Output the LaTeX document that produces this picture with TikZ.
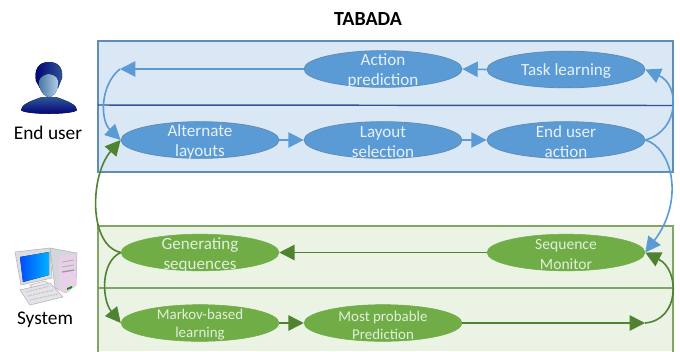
\documentclass[tikz,border=0pt]{standalone}
\usepackage{fontspec}
\setmainfont{Carlito}
\usetikzlibrary{arrows.meta,shapes.geometric,calc}
\definecolor{bluefill}{HTML}{DAE8F5}
\definecolor{blueedge}{HTML}{5F8DB5}
\definecolor{bluedark}{HTML}{2F5597}
\definecolor{blueell}{HTML}{5B9BD5}
\definecolor{greenfill}{HTML}{EBF3E5}
\definecolor{greenedge}{HTML}{7FA664}
\definecolor{greenell}{HTML}{70AD47}
\definecolor{greendark}{HTML}{4F8231}
\tikzset{
  blueoval/.style={ellipse,draw=blueedge,fill=blueell,line width=0.6pt,minimum width=118.5pt,minimum height=27.5pt,inner sep=0pt},
  greenoval/.style={ellipse,draw=greenell,fill=greenell,line width=0.4pt,minimum width=118.5pt,minimum height=27.5pt,inner sep=0pt},
  bluetext/.style={text=white!85!blueell,align=center,inner sep=0pt,yshift=-1.5pt,font=\fontsize{12.8}{15}\selectfont},
  greentext/.style={text=white!80!greenell,align=center,inner sep=0pt,yshift=-1.5pt,font=\fontsize{12.8}{15}\selectfont},
  seqtext/.style={greentext,font=\fontsize{11.7}{14.3}\selectfont},
  smalltext/.style={greentext,font=\fontsize{11.2}{13.5}\selectfont},
  blueflow/.style={draw=blueell,line width=1.2pt,-{Triangle[length=11.5pt,width=11.5pt,fill=blueell]}},
  greenflow/.style={draw=greendark,line width=1.2pt,-{Triangle[length=11.5pt,width=11.5pt,fill=greendark]}},
  actor/.style={font=\fontsize{14.5}{17}\selectfont,text=black},
}
\begin{document}
\begin{tikzpicture}[x=0.75pt,y=-0.75pt]
\useasboundingbox (0,0) rectangle (680,351);
\fill[white] (0,0) rectangle (680,351);
% panels
\draw[draw=blueedge,fill=bluefill,line width=1.5pt] (97.5,41) rectangle (673,171.5);
\draw[bluedark,line width=1.1pt] (97.5,105) -- (673,105.5);
\fill[greenfill] (97.5,225.5) rectangle (673,351);
\draw[draw=greenedge,line width=1.5pt] (97.5,352) -- (97.5,225.5) -- (673,225.5) -- (673,352);
\draw[greenedge,line width=1.5pt] (97.5,287.5) -- (673,287.5);
% title
\node[font=\bfseries\fontsize{15}{17}\selectfont] (title) at (368,19) {TABADA};
% ovals
\node[blueoval,label={[bluetext]center:{Action\\prediction}}] (action) at (383,69) {};
\node[blueoval,label={[bluetext]center:{Task learning}}] (task) at (566,69.5) {};
\node[blueoval,label={[bluetext]center:{Alternate\\layouts}}] (alt) at (200,140) {};
\node[blueoval,label={[bluetext]center:{Layout\\selection}}] (layout) at (383,140) {};
\node[blueoval,label={[bluetext]center:{End user\\action}}] (enduser) at (566,140) {};
\node[greenoval,label={[greentext]center:{Generating\\sequences}}] (gen) at (200,252.5) {};
\node[greenoval,label={[seqtext]center:{Sequence\\Monitor}}] (seq) at (566,252.5) {};
\node[greenoval,label={[smalltext]center:{Markov-based\\learning}}] (markov) at (200,323) {};
\node[greenoval,label={[smalltext]center:{Most probable\\Prediction}}] (prob) at (383,323) {};
% free ends
\coordinate (actEnd) at (120,69);
\coordinate (probEnd) at (645,323);
% connectors
\draw[blueflow] (action.west) -- (actEnd);
\draw[blueflow] (actEnd) .. controls (100,85) and (100,120) .. (alt.west);
\draw[blueflow] (task.west) -- (action.east);
\draw[blueflow] (alt.east) -- (layout.west);
\draw[blueflow] (layout.east) -- (enduser.west);
\draw[blueflow] (enduser.east) .. controls (680,130) and (680,85) .. (task.east);
\draw[blueflow] (enduser.east) .. controls (672,148) and (685,200) .. (seq.east);
\draw[greenflow] (gen.west) .. controls (88,245) and (90,175) .. (alt.west);
\draw[greenflow] (gen.west) .. controls (100,262) and (102,300) .. (markov.west);
\draw[greenflow] (seq.west) -- (gen.east);
\draw[greenflow] (markov.east) -- (prob.west);
\draw[greenflow] (prob.east) -- (probEnd);
\draw[greenflow] (probEnd) .. controls (680,320) and (680,270) .. (seq.east);
% end user icon
\begin{scope}
  \fill[top color=bluedark,bottom color=blue!45!black]
    (21,110) .. controls (21,105) and (30,101) .. (42,97) -- (56,97) .. controls (68,101) and (77,105) .. (77,110) .. controls (74,115) and (24,115) .. (21,110) -- cycle;
  \fill[left color=blue!45!black,right color=bluedark] (49,62) .. controls (38,62) and (34,70) .. (36,81) -- (40,88) -- (58,88) -- (62,78) .. controls (63,70) and (60,62) .. (49,62) -- cycle;
  \fill[left color=blueell!75!black,right color=blueell!45] (48,74) .. controls (41,76) and (38,79) .. (39,85) .. controls (41,93) and (45,97) .. (49,97) .. controls (53,97) and (57,93) .. (58,85) .. controls (59,78) and (56,75) .. (48,74) -- cycle;
\end{scope}
\node[actor] (enduserlabel) at (48,133) {End user};
% computer icon
\begin{scope}
  \fill[blue!10!gray!30,draw=gray!60,line width=0.4pt] (50,248) -- (77,253) -- (76,285) -- (66,293) -- (55,288) -- cycle;
  \fill[violet!18!white] (59,256) -- (76,254) -- (76,285) -- (66,293) -- (59,290) -- cycle;
  \draw[gray!60,line width=0.7pt] (62,262) -- (74,260) (62,267) -- (74,265);
  \draw[gray!80,line width=1pt] (62,272) -- (74,270);
  \fill[green!60!black] (67,288) -- (72,286) -- (72,288) -- (67,290) -- cycle;
  \fill[gray!12,draw=gray!60,line width=0.4pt] (30,285) -- (45,281) -- (51,286) -- (35,291) -- cycle;
  \fill[blue!10!gray!25,draw=gray!60,line width=0.4pt] (15,252) -- (50,248) -- (52,278) -- (21,285) -- cycle;
  \fill[left color=blue!70!cyan,right color=cyan!70!blue] (20,257) -- (49,252) -- (49,275) -- (23,282) -- cycle;
  \fill[blue!10!gray!20,draw=gray!60,line width=0.4pt] (20,290) -- (50,283) -- (63,297) -- (30,305) -- cycle;
  \draw[gray!50,line width=0.7pt,dash pattern=on 1.2pt off 0.8pt] (26,292) -- (50,286) (28,296) -- (54,290) (30,300) -- (58,294);
\end{scope}
\node[actor] (systemlabel) at (45,320) {System};
\end{tikzpicture}
\end{document}
